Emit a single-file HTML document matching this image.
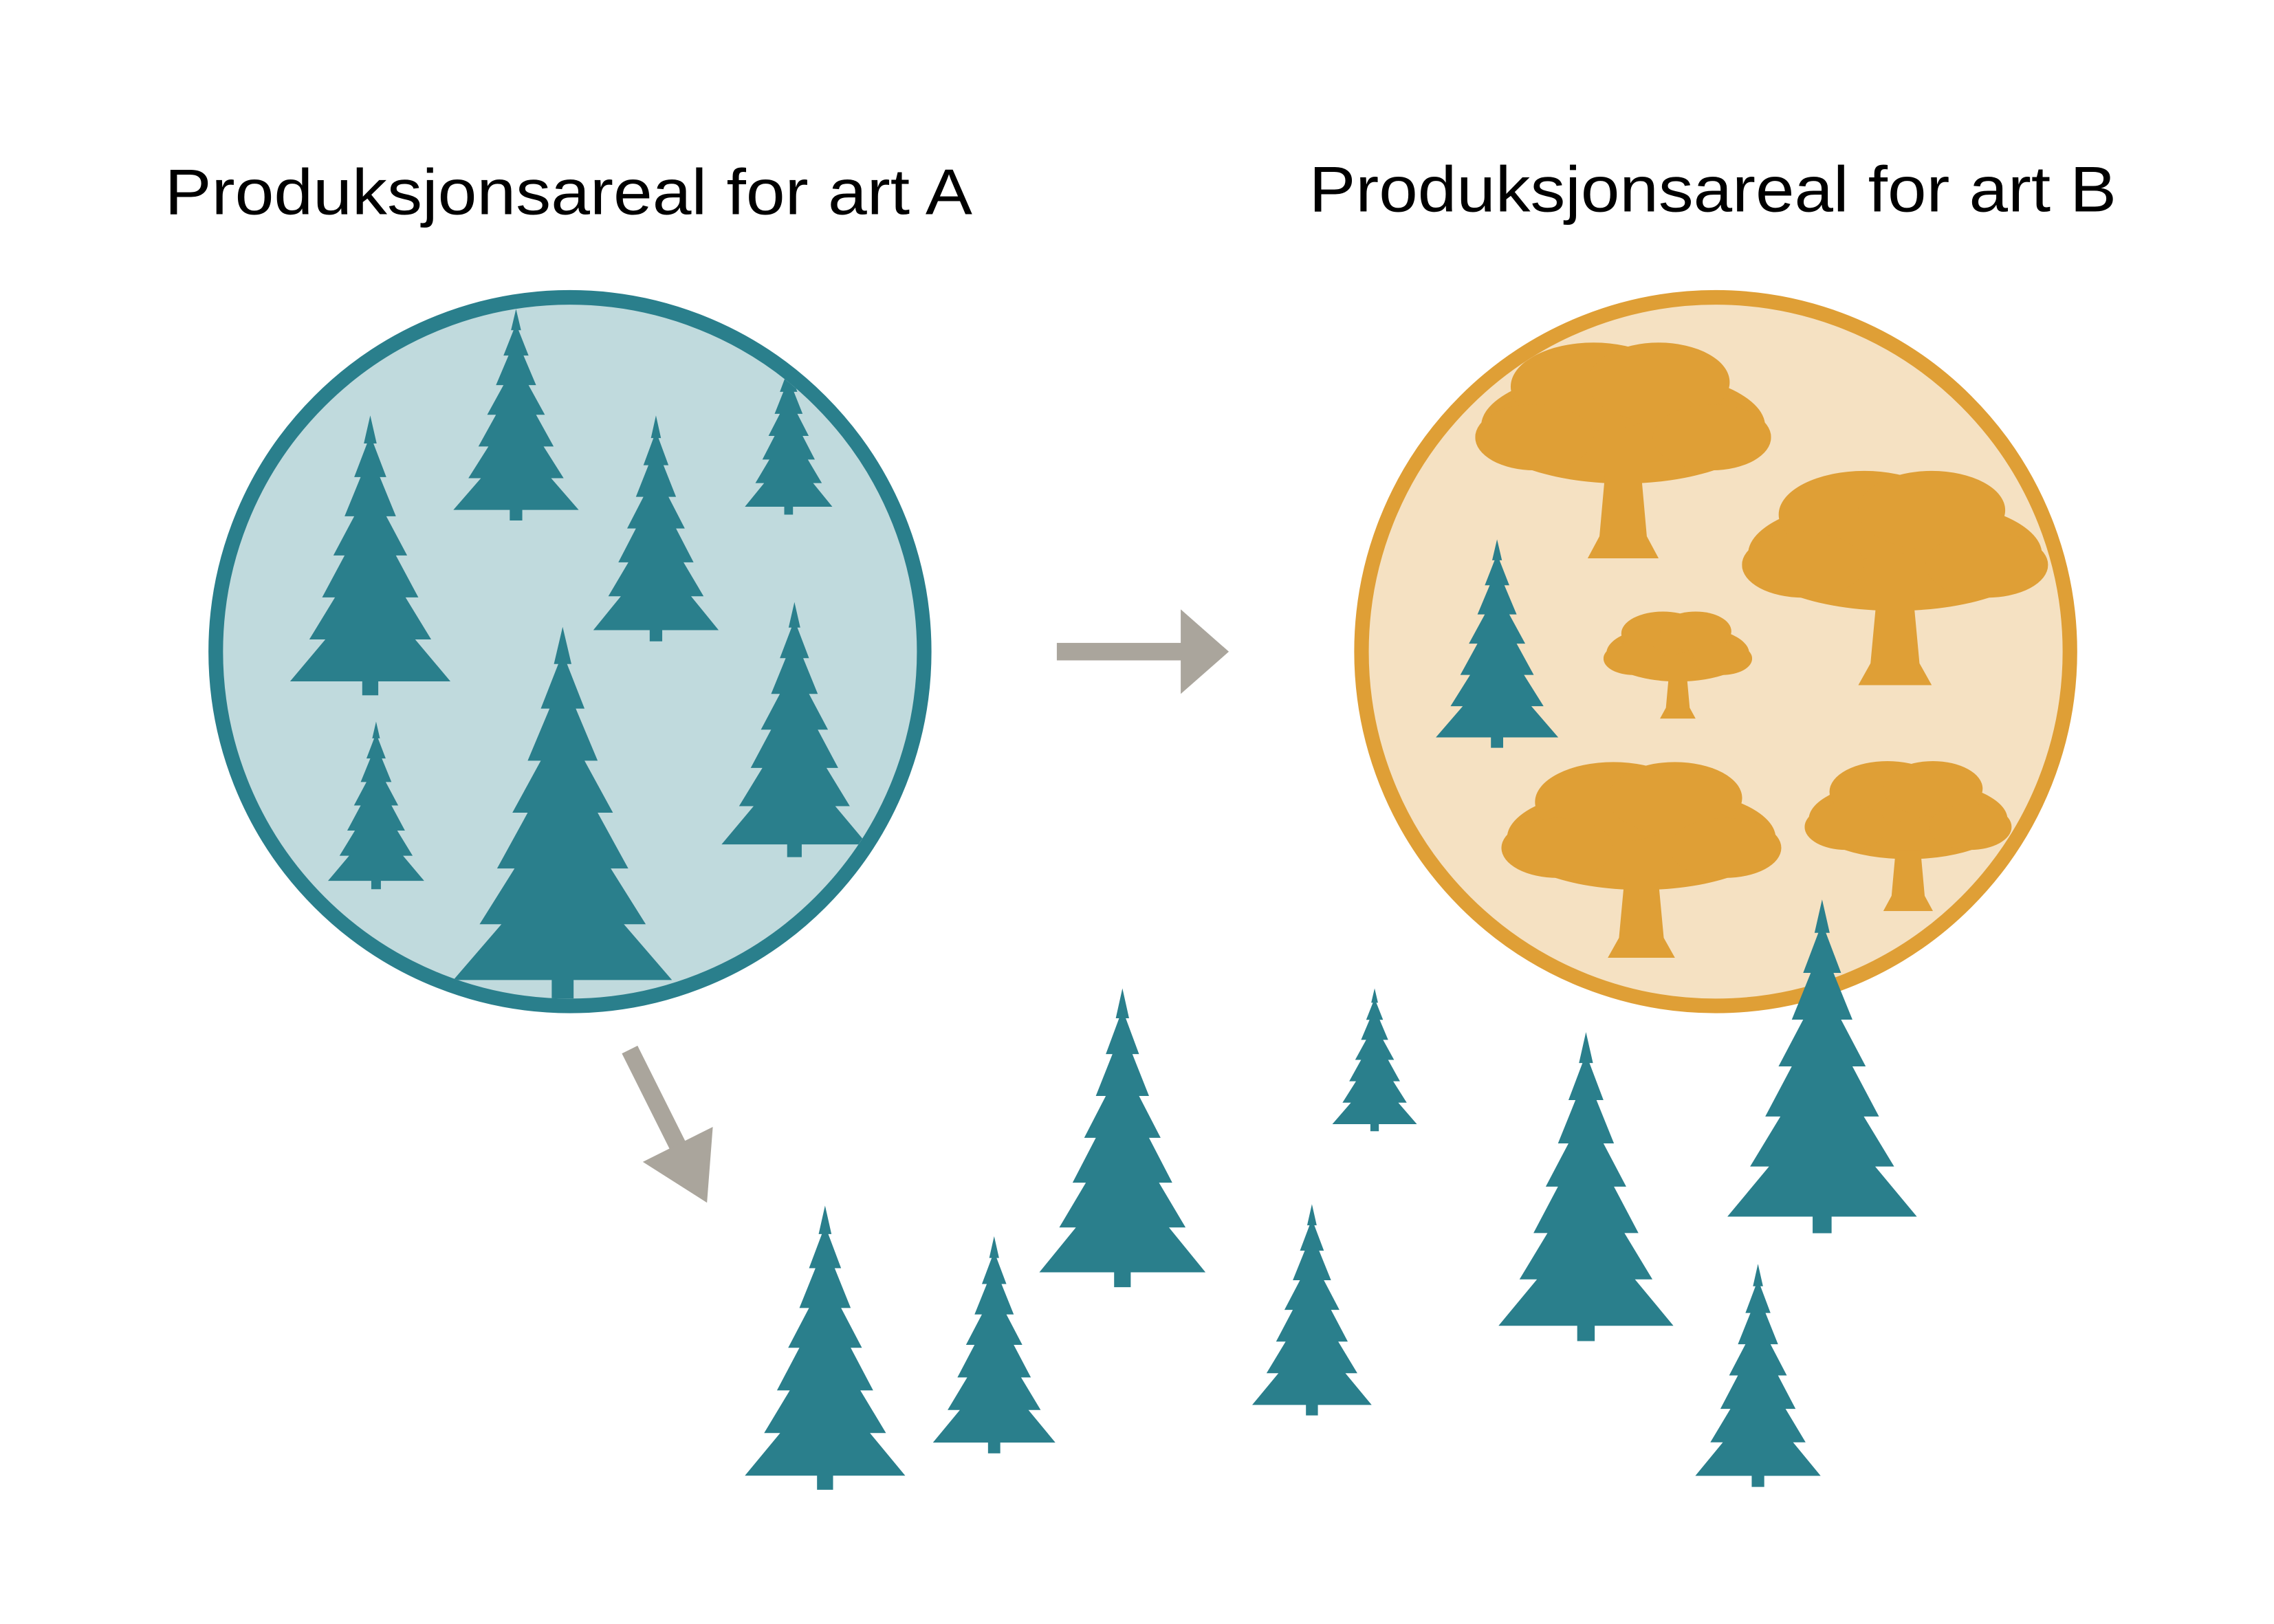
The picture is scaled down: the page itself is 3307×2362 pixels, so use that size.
<!DOCTYPE html>
<html><head><meta charset="utf-8"><style>
html,body{margin:0;padding:0;background:#fff;}
svg{display:block}
</style></head><body>
<svg width="3307" height="2362" viewBox="0 0 1560 1114" preserveAspectRatio="none" xmlns="http://www.w3.org/2000/svg">
<defs>
<symbol id="sp" viewBox="0 0 100 100" preserveAspectRatio="none">
<polygon fill="#2a7f8c" points="50,0 54,10 52,10 60,22 56,22 66,36 60,36 73,50 66,50 80,65 72,65 88,80 78,80 100,95 55,95 55,100 45,100 45,95 0,95 22,80 12,80 28,65 20,65 34,50 27,50 40,36 34,36 44,22 40,22 48,10 46,10"/>
</symbol>
<symbol id="oak" viewBox="0 0 100 100" preserveAspectRatio="none">
<g fill="#df9f36">
<ellipse cx="50" cy="40" rx="48" ry="26"/>
<ellipse cx="40" cy="22" rx="28" ry="20"/>
<ellipse cx="62" cy="20" rx="24" ry="18"/>
<ellipse cx="20" cy="45" rx="20" ry="15"/>
<ellipse cx="80" cy="45" rx="20" ry="15"/>
<polygon points="44,60 56,60 58,90 62,100 38,100 42,90"/>
</g>
</symbol>
<clipPath id="ca"><circle cx="391" cy="447" r="238"/></clipPath>
<clipPath id="cb"><circle cx="1177" cy="447" r="238"/></clipPath>
</defs>
<text x="113" y="147" font-family="Liberation Sans, sans-serif" font-size="44" fill="#000" textLength="554" lengthAdjust="spacingAndGlyphs">Produksjonsareal for art A</text>
<text x="898" y="145" font-family="Liberation Sans, sans-serif" font-size="44" fill="#000" textLength="554" lengthAdjust="spacingAndGlyphs">Produksjonsareal for art B</text>

<circle cx="391" cy="447" r="243" fill="#c0dadd" stroke="#2a7f8c" stroke-width="10"/>
<g clip-path="url(#ca)">
<use href="#sp" x="199" y="285" width="110" height="192"/>
<use href="#sp" x="311" y="212" width="86" height="145"/>
<use href="#sp" x="407" y="285" width="86" height="155"/>
<use href="#sp" x="511" y="245" width="60" height="108"/>
<use href="#sp" x="311" y="430" width="150" height="255"/>
<use href="#sp" x="225" y="495" width="66" height="115"/>
<use href="#sp" x="495" y="413" width="100" height="175"/>
</g>

<circle cx="1177" cy="447" r="243" fill="#f5e1c2" stroke="#df9f36" stroke-width="10"/>
<g clip-path="url(#cb)">
<use href="#oak" x="1012" y="232" width="203" height="151"/>
<use href="#oak" x="1195" y="320" width="210" height="150"/>
<use href="#oak" x="1100" y="418" width="102" height="75"/>
<use href="#oak" x="1030" y="520" width="192" height="137"/>
<use href="#oak" x="1238" y="520" width="142" height="105"/>
<use href="#sp" x="985" y="370" width="84" height="143"/>
</g>

<rect x="725" y="441" width="90" height="12" fill="#aaa59c"/>
<polygon points="810,418 843,447 810,476" fill="#aaa59c"/>
<line x1="432" y1="720" x2="467" y2="790" stroke="#aaa59c" stroke-width="12"/>
<polygon points="485,825 441,797 489,773" fill="#aaa59c"/>

<use href="#sp" x="511" y="827" width="110" height="195"/>
<use href="#sp" x="640" y="848" width="84" height="149"/>
<use href="#sp" x="713" y="678" width="114" height="205"/>
<use href="#sp" x="914" y="678" width="58" height="98"/>
<use href="#sp" x="859" y="826" width="82" height="145"/>
<use href="#sp" x="1028" y="708" width="120" height="212"/>
<use href="#sp" x="1185" y="617" width="130" height="229"/>
<use href="#sp" x="1163" y="867" width="86" height="153"/>
</svg>
</body></html>
